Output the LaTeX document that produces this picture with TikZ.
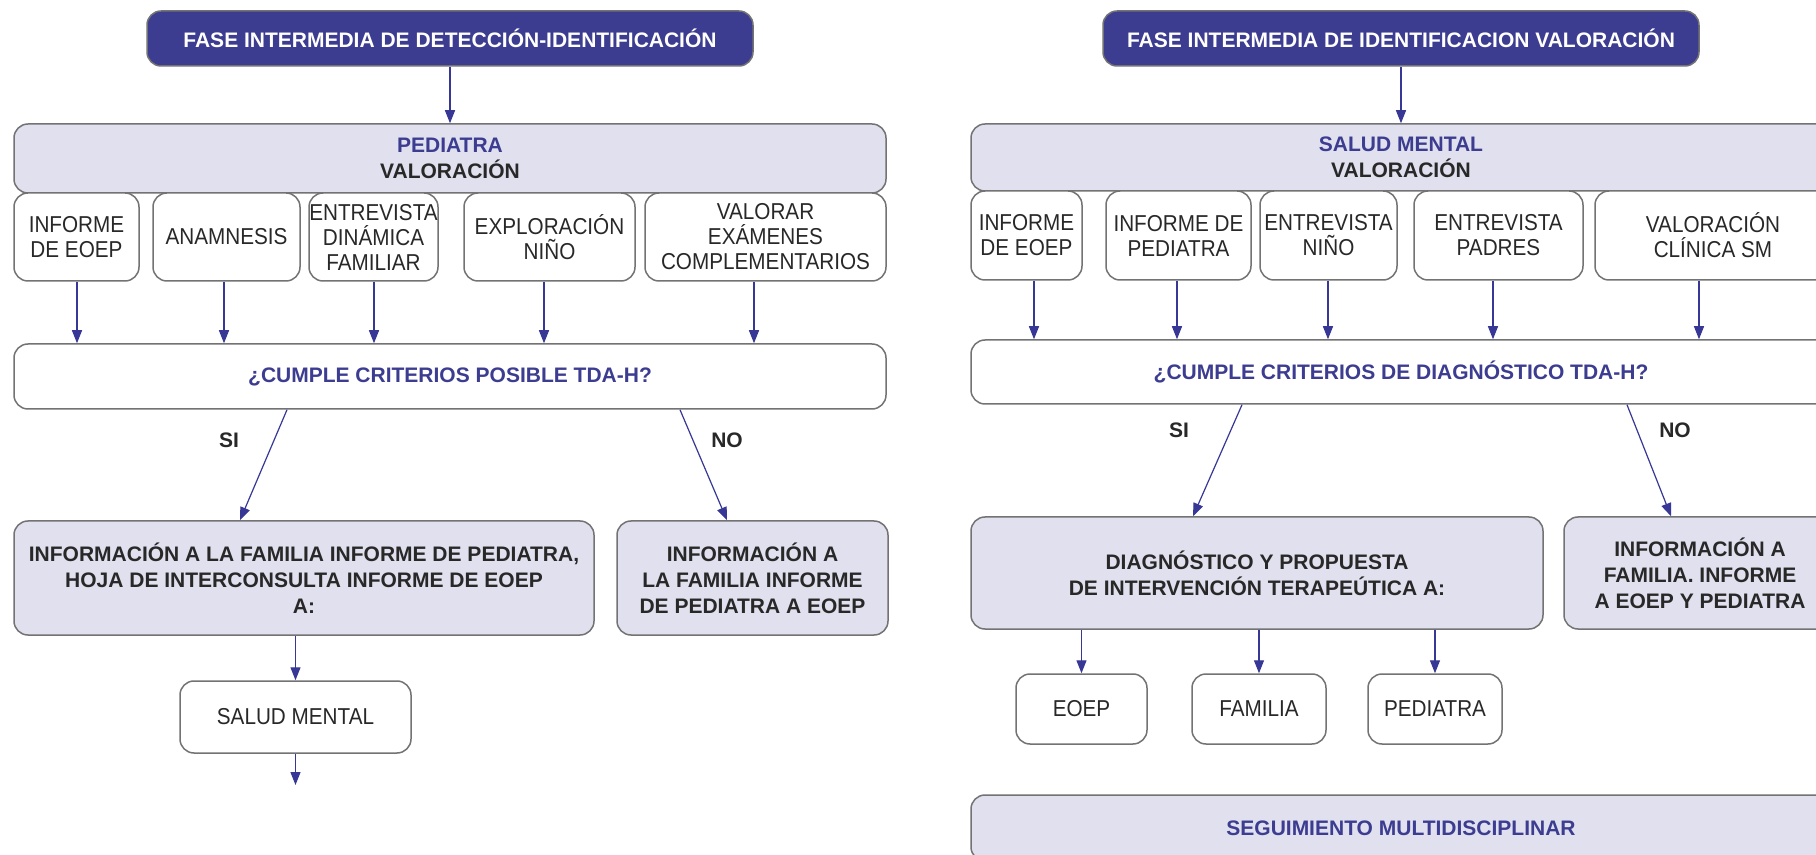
\documentclass[tikz,border=0pt]{standalone}
\usepackage{fontspec}
\setmainfont{Liberation Sans}
\newfontfamily\condfont{Liberation Sans}[FakeStretch=0.9]
\usetikzlibrary{arrows.meta}
\definecolor{dblue}{RGB}{60,60,145}
\definecolor{lav}{RGB}{224,224,238}
\definecolor{bgray}{RGB}{115,115,115}
\definecolor{txt}{RGB}{40,40,40}
\definecolor{ablue}{RGB}{55,55,150}
\begin{document}
\begin{tikzpicture}[x=0.5pt,y=-0.5pt,
 base/.style={draw=bgray, line width=0.75pt, rounded corners=7pt, align=center, inner sep=0pt, text=txt},
 titlebox/.style={base, fill=dblue, text=white, font=\bfseries\fontsize{10.5}{12.5}\selectfont},
 lavbox/.style={base, fill=lav, font=\bfseries\fontsize{10.5}{13}\selectfont},
 wbox/.style={base, fill=white, font=\condfont\fontsize{11.5}{12.5}\selectfont},
 qbox/.style={base, fill=white, text=dblue, font=\bfseries\fontsize{10.5}{12.5}\selectfont},
 lbl/.style={font=\bfseries\fontsize{10.5}{12.5}\selectfont, text=txt, inner sep=0pt},
 arr/.style={draw=ablue, line width=0.6pt, -{Triangle[width=5pt,length=6.5pt]}},
]
\useasboundingbox (0,0) rectangle (1816,855);
\clip (0,0) rectangle (1816,855);
\fill[white] (0,0) rectangle (1816,855);

% ---------------- LEFT ----------------
\node[titlebox, minimum width=303pt, minimum height=27.5pt] (tL) at (450,38.5) {FASE INTERMEDIA DE DETECCIÓN-IDENTIFICACIÓN};
\node[lavbox, minimum width=436pt, minimum height=34.5pt] (pL) at (450,158.5) {\textcolor{dblue}{PEDIATRA}\\VALORACIÓN};
\node[wbox, minimum width=62.5pt, minimum height=44pt] (l1) at (76.5,237) {INFORME\\DE EOEP};
\node[wbox, minimum width=73.5pt, minimum height=44pt] (l2) at (226.5,237) {ANAMNESIS};
\node[wbox, minimum width=64.5pt, minimum height=44pt] (l3) at (373.5,237) {ENTREVISTA\\DINÁMICA\\FAMILIAR};
\node[wbox, minimum width=85.5pt, minimum height=44pt] (l4) at (549.5,237) {EXPLORACIÓN\\NIÑO};
\node[wbox, minimum width=120.5pt, minimum height=44pt] (l5) at (765.5,237) {VALORAR\\EXÁMENES\\COMPLEMENTARIOS};
\node[qbox, minimum width=436pt, minimum height=32.5pt] (cL) at (450,376.5) {¿CUMPLE CRITERIOS POSIBLE TDA-H?};
\node[lbl] (siL) at (229,440) {SI};
\node[lbl] (noL) at (727,440) {NO};
\node[lavbox, minimum width=290pt, minimum height=57pt] (iL) at (304,578) {INFORMACIÓN A LA FAMILIA INFORME DE PEDIATRA,\\HOJA DE INTERCONSULTA INFORME DE EOEP\\A:};
\node[lavbox, minimum width=135.5pt, minimum height=57pt] (nL) at (752.5,578) {INFORMACIÓN A\\LA FAMILIA INFORME\\DE PEDIATRA A EOEP};
\node[wbox, minimum width=115.5pt, minimum height=36pt] (smL) at (295.5,717) {SALUD MENTAL};
\coordinate (endL) at (295.5,785);

\draw[arr] (tL.south -| pL.north) -- (pL.north);
\draw[arr] (77,0 |- l1.south) -- (77,0 |- cL.north);
\draw[arr] (224,0 |- l2.south) -- (224,0 |- cL.north);
\draw[arr] (374,0 |- l3.south) -- (374,0 |- cL.north);
\draw[arr] (544,0 |- l4.south) -- (544,0 |- cL.north);
\draw[arr] (754,0 |- l5.south) -- (754,0 |- cL.north);
\draw[arr] (287,0 |- cL.south) -- (240,0 |- iL.north);
\draw[arr] (680,0 |- cL.south) -- (727,0 |- nL.north);
\draw[arr] (smL.north |- iL.south) -- (smL.north);
\draw[arr] (smL.south) -- (endL);

% ---------------- RIGHT ----------------
\node[titlebox, minimum width=298pt, minimum height=27.5pt] (tR) at (1401,38.5) {FASE INTERMEDIA DE IDENTIFICACION VALORACIÓN};
\node[lavbox, minimum width=430pt, minimum height=33.5pt] (pR) at (1401,157.5) {\textcolor{dblue}{SALUD MENTAL}\\VALORACIÓN};
\node[wbox, minimum width=55.5pt, minimum height=44.5pt] (r1) at (1026.5,235.5) {INFORME\\DE EOEP};
\node[wbox, minimum width=72.5pt, minimum height=44.5pt] (r2) at (1178.5,235.5) {INFORME DE\\PEDIATRA};
\node[wbox, minimum width=68.5pt, minimum height=44.5pt] (r3) at (1328.5,235.5) {ENTREVISTA\\NIÑO};
\node[wbox, minimum width=84.5pt, minimum height=44.5pt] (r4) at (1498.5,235.5) {ENTREVISTA\\PADRES};
\node[wbox, minimum width=118pt, minimum height=44.5pt] (r5) at (1713,235.5) {VALORACIÓN\\CLÍNICA SM};
\node[qbox, minimum width=430pt, minimum height=32pt] (cR) at (1401,372) {¿CUMPLE CRITERIOS DE DIAGNÓSTICO TDA-H?};
\node[lbl] (siR) at (1179,430) {SI};
\node[lbl] (noR) at (1675,430) {NO};
\node[lavbox, minimum width=286pt, minimum height=56pt] (dR) at (1257,573) {DIAGNÓSTICO Y PROPUESTA\\DE INTERVENCIÓN TERAPEÚTICA A:};
\node[lavbox, minimum width=136pt, minimum height=56pt] (nR) at (1700,573) {INFORMACIÓN A\\FAMILIA. INFORME\\A EOEP Y PEDIATRA};
\node[wbox, minimum width=65.5pt, minimum height=35pt] (e1) at (1081.5,709) {EOEP};
\node[wbox, minimum width=67pt, minimum height=35pt] (e2) at (1259,709) {FAMILIA};
\node[wbox, minimum width=67pt, minimum height=35pt] (e3) at (1435,709) {PEDIATRA};
\node[lavbox, text=dblue, minimum width=430pt, minimum height=33pt] (sR) at (1401,828) {SEGUIMIENTO MULTIDISCIPLINAR};

\draw[arr] (tR.south) -- (pR.north);
\draw[arr] (1034,0 |- r1.south) -- (1034,0 |- cR.north);
\draw[arr] (1177,0 |- r2.south) -- (1177,0 |- cR.north);
\draw[arr] (1328,0 |- r3.south) -- (1328,0 |- cR.north);
\draw[arr] (1493,0 |- r4.south) -- (1493,0 |- cR.north);
\draw[arr] (1699,0 |- r5.south) -- (1699,0 |- cR.north);
\draw[arr] (1242,0 |- cR.south) -- (1193,0 |- dR.north);
\draw[arr] (1627,0 |- cR.south) -- (1671,0 |- nR.north);
\foreach \n in {e1,e2,e3} \draw[arr] (\n.north |- dR.south) -- (\n.north);
\end{tikzpicture}
\end{document}
